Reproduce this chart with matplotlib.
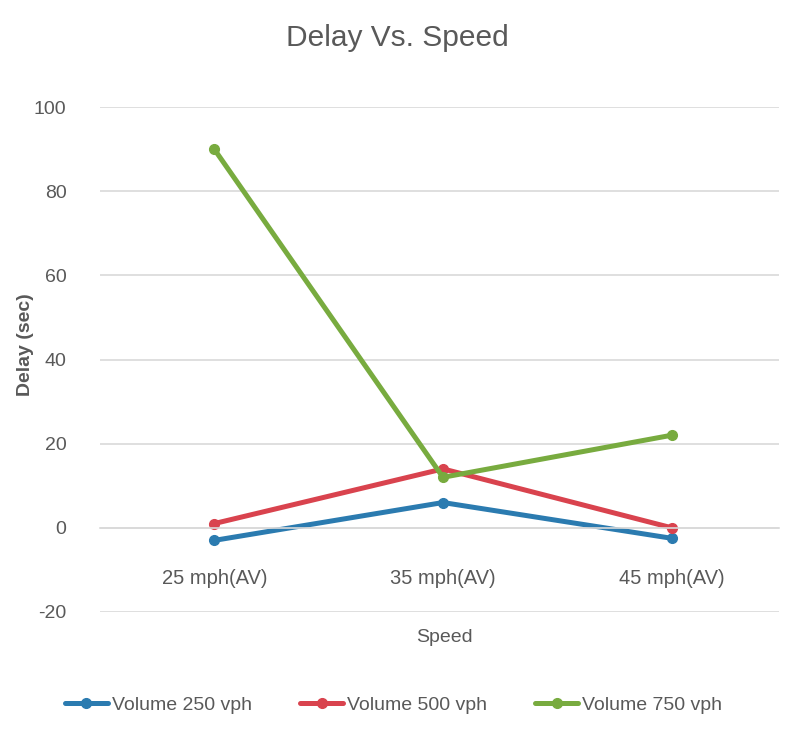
import numpy as np
import matplotlib.pyplot as plt

plt.rcParams['font.family'] = ['Liberation Sans Narrow', 'Liberation Sans', 'DejaVu Sans']
plt.rcParams['axes.unicode_minus'] = False

speeds = ["25 mph(AV)", "35 mph(AV)", "45 mph(AV)"]
vol_250 = [-3, 6, -2.5]
vol_500 = [1, 14, 0]
vol_750 = [90, 12, 22]
series_names = ["Volume 250 vph", "Volume 500 vph", "Volume 750 vph"]
colors = ["#2b7bb0", "#d9434e", "#78ab3f"]

fig = plt.figure(figsize=(7.87, 7.39), dpi=100)
ax = fig.add_axes([0.127, 0.172, 0.863, 0.683])

x = np.arange(len(speeds))
for vals, name, c in zip([vol_250, vol_500, vol_750], series_names, colors):
    ax.plot(x, vals, color=c, lw=3.6, marker="o", ms=7, label=name,
            solid_capstyle="round")

ax.set_xlim(-0.5, 2.47)
ax.set_ylim(-20, 100)
ax.set_yticks(np.arange(-20, 101, 20))
ax.grid(axis="y", color="#d9d9d9", lw=1.2)
ax.set_axisbelow(True)
for s in ["top", "right", "left"]:
    ax.spines[s].set_visible(False)
ax.spines["bottom"].set_position(("data", 0))
ax.spines["bottom"].set_color("#d9d9d9")
ax.spines["bottom"].set_linewidth(1.2)

ax.set_xticks(x)
ax.set_xticklabels(speeds)
ax.tick_params(axis="x", length=0, pad=30, labelsize=14.5, labelcolor="#595959")
ax.tick_params(axis="y", length=0, pad=24, labelsize=14, labelcolor="#595959")

fig.text(0.505, 0.948, "Delay Vs. Speed", ha="center", va="center",
         fontsize=21.5, color="#595959")
fig.text(0.565, 0.137, "Speed", ha="center", va="center",
         fontsize=14, color="#595959")
fig.text(0.032, 0.533, "Delay (sec)", ha="center", va="center", rotation=90,
         fontsize=14, color="#595959", fontweight="bold")

leg = fig.legend(loc="center", bbox_to_anchor=(0.5, 0.046), ncol=3,
                 frameon=False, fontsize=14, handlelength=2.2,
                 columnspacing=2.5, handletextpad=0.2)
for t in leg.get_texts():
    t.set_color("#595959")

plt.savefig("out.png", dpi=100)
